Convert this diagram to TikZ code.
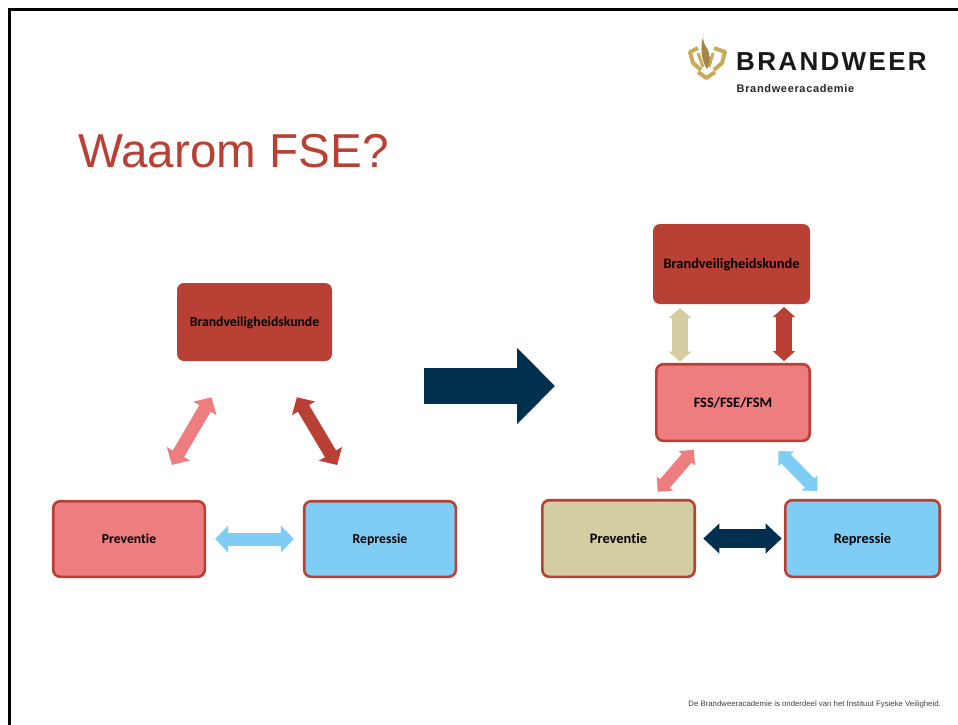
\documentclass[tikz,border=0pt]{standalone}
\usepackage{fontspec}
\setmainfont{Liberation Sans}
\newfontfamily\boxfont[Ligatures=NoCommon]{Carlito}
\newfontfamily\logofont[LetterSpace=9]{Liberation Sans}
\newfontfamily\logosubfont[LetterSpace=6]{Liberation Sans}
\usetikzlibrary{arrows.meta,calc}

\definecolor{brandred}{HTML}{B94034}
\definecolor{brandpink}{HTML}{EE7D80}
\definecolor{brandblue}{HTML}{7FCDF4}
\definecolor{brandsand}{HTML}{D4CDA1}
\definecolor{brandnavy}{HTML}{012F4E}
\definecolor{brandgold}{HTML}{C9A95A}

\tikzset{
    blockbox/.style={rectangle, rounded corners=7pt, draw=brandred, line width=2.6pt,
        minimum width=151.6pt, minimum height=75.6pt, inner sep=0pt, text height=11pt, text depth=1.5pt,
        font=\boxfont\bfseries\fontsize{13.7}{16}\selectfont},
    bigbox/.style={blockbox, minimum height=76.6pt,
        font=\boxfont\bfseries\fontsize{14.4}{17}\selectfont},
    blockarrow/.style={line width=13pt,
        {Triangle[length=13pt,width=26pt]}-{Triangle[length=13pt,width=26pt]}},
    uparrow/.style={line width=16pt,
        {Triangle[length=10pt,width=22pt]}-{Triangle[length=10pt,width=22pt]}},
    slantarrow/.style={line width=13pt,
        {Triangle[length=11pt,width=21pt]}-{Triangle[length=11pt,width=21pt]}},
    navyarrow/.style={line width=19pt,
        {Triangle[length=16pt,width=29pt]}-{Triangle[length=16pt,width=29pt]}},
    logostroke/.style={brandgold, line width=4pt, line join=round},
}

\begin{document}
\begin{tikzpicture}[x=1pt,y=-1pt]
    \useasboundingbox (0,0) rectangle (958,725);

    % frame
    \draw[line width=3pt] (9.5,725) -- (9.5,9.5) -- (958,9.5);

    % title
    \node[text=brandred, font=\fontsize{47.6}{50}\selectfont, anchor=west, inner sep=0pt] (title) at (78,151) {Waarom FSE?};

    % logo
    \draw[logostroke] (698,48) -- (690,52) -- (693,63) -- (701,70);
    \draw[logostroke] (714,48) -- (725,52) -- (722,63) -- (714,70);
    \draw[logostroke] (698,72) -- (706.5,78) -- (715,72);
    \draw[logostroke, line width=3pt] (698,53) -- (703,67);
    \draw[logostroke, line width=3pt] (713,53) -- (709,67);
    \fill[brandgold!80!black] (704,33) .. controls (700,42) and (708,47) .. (709,53) .. controls (711,60) and (709,66) .. (707,69)
        .. controls (702,62) and (699,48) .. (704,33);
    \node[font=\logofont\bfseries\fontsize{26}{28}\selectfont, text=black!90, anchor=west, inner sep=0pt] (logoname) at (736,62) {BRANDWEER};
    \node[font=\logosubfont\bfseries\fontsize{11}{13}\selectfont, text=black!85, anchor=west, inner sep=0pt] (logosub) at (736.5,89) {Brandweeracademie};

    % left triangle
    \node[blockbox, fill=brandred, draw=none, minimum width=155pt, minimum height=78pt] (brandl) at (254.5,322) {Brandveiligheidskunde};
    \node[blockbox, fill=brandpink] (prevl) at (129,539) {Preventie};
    \node[blockbox, fill=brandblue] (repl) at (380,539) {Repressie};

    \draw[blockarrow, brandpink, shorten <=40.5pt, shorten >=40.5pt] ($(brandl.south)+(-22.5,0)$) -- ($(prevl.north)+(22.4,0)$);
    \draw[blockarrow, brandred, shorten <=40.6pt, shorten >=40.6pt] ($(brandl.south)+(21.6,0)$) -- ($(repl.north)+(-22.1,0)$);
    \draw[blockarrow, brandblue, shorten <=9pt, shorten >=9pt] (prevl) -- (repl);

    % big arrow
    \coordinate (bigstart) at (424,386);
    \coordinate (bigend) at (555,386);
    \draw[line width=36pt, brandnavy, -{Triangle[length=38pt,width=74pt]}] (bigstart) -- (bigend);

    % right column
    \node[bigbox, fill=brandred, draw=none, minimum width=157pt, minimum height=80pt] (brandr) at (731.5,264) {Brandveiligheidskunde};
    \node[bigbox, fill=brandpink, minimum width=153.4pt] (fss) at (733,402.5) {FSS/FSE/FSM};
    \node[bigbox, fill=brandsand, minimum width=152.4pt] (prevr) at (618.5,538.5) {Preventie};
    \node[bigbox, fill=brandblue, minimum width=154.4pt] (repr) at (862.5,538.5) {Repressie};

    \draw[uparrow, brandsand, shorten <=2.7pt, shorten >=1.2pt] (brandr.south -| 680,0) -- (fss.north -| 680,0);
    \draw[uparrow, brandred, shorten <=1.7pt, shorten >=1.8pt] (brandr.south -| 784,0) -- (fss.north -| 784,0);
    \draw[slantarrow, brandpink, shorten <=10.1pt, shorten >=9.3pt] ($(fss.south)+(-32.5,0)$) -- ($(prevr.north)+(33.2,0)$);
    \draw[slantarrow, brandblue, shorten <=12.6pt, shorten >=11.2pt] ($(fss.south)+(36.6,0)$) -- ($(repr.north)+(-37.4,0)$);
    \draw[navyarrow, brandnavy, shorten <=7.3pt, shorten >=2.3pt] (prevr) -- (repr);

    % footer
    \node[font=\fontsize{7.8}{9}\selectfont, text=black!75, anchor=east, inner sep=0pt] (footer) at (941,704.5) {De Brandweeracademie is onderdeel van het Instituut Fysieke Veiligheid.};
\end{tikzpicture}
\end{document}
